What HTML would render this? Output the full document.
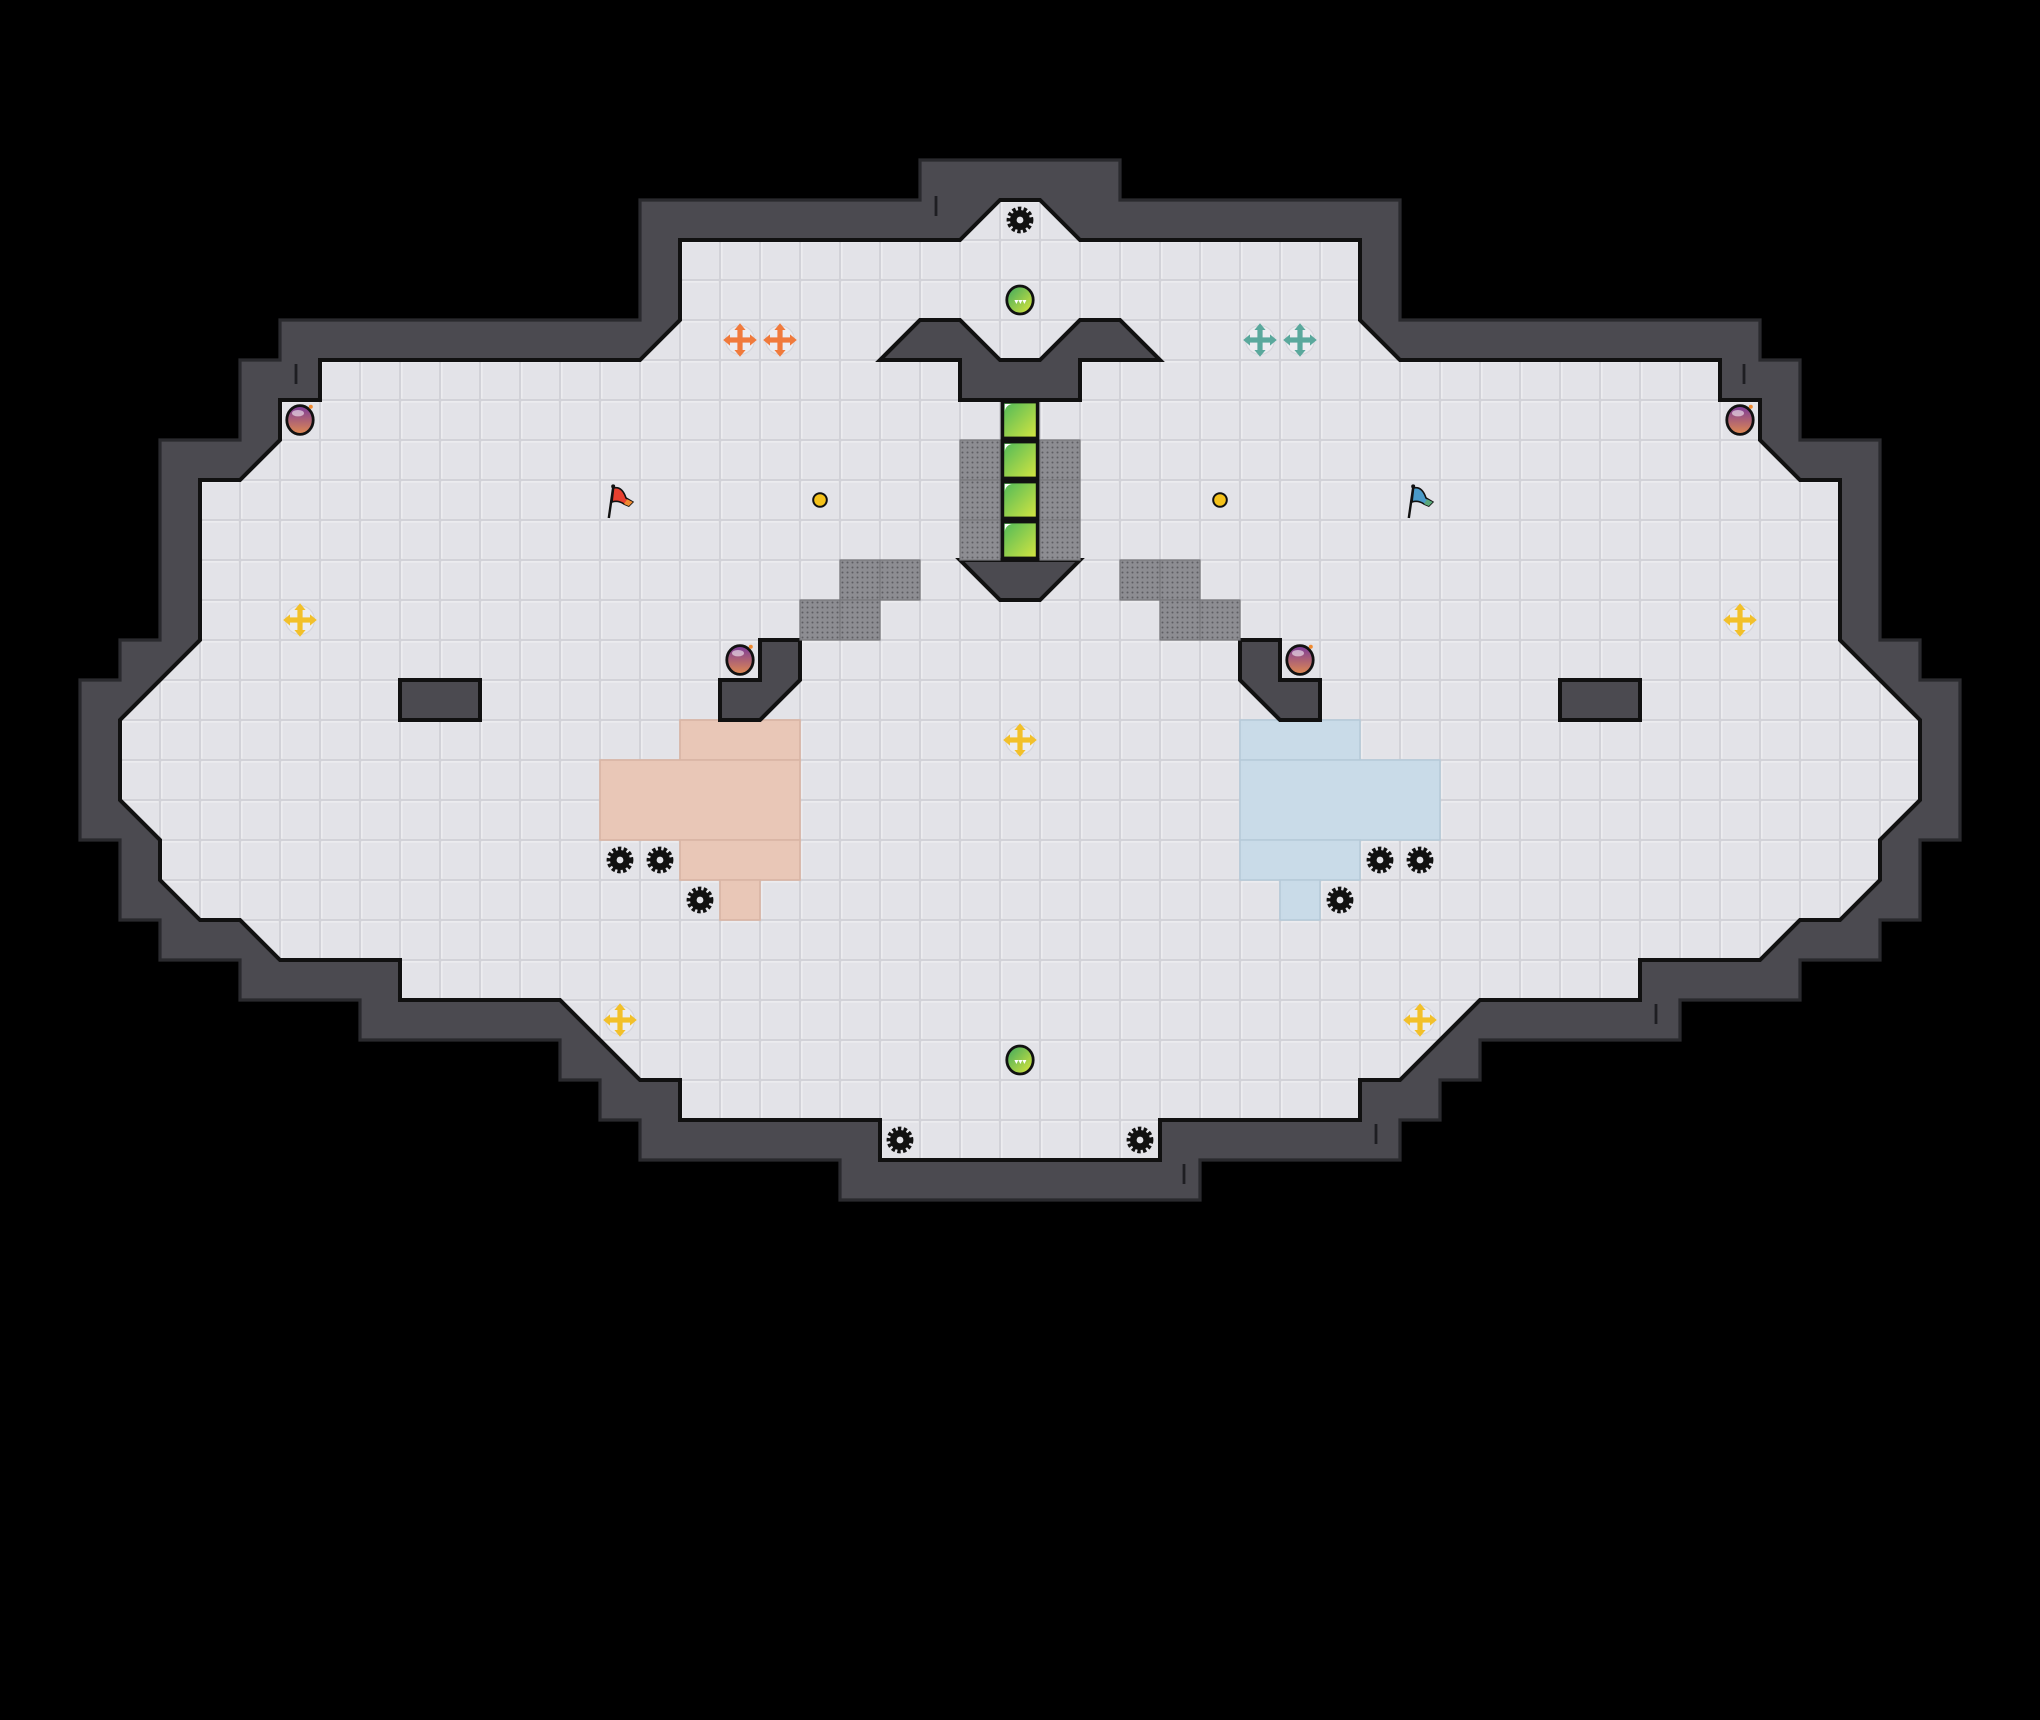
<!DOCTYPE html>
<html><head><meta charset="utf-8"><style>html,body{margin:0;padding:0;background:#000}svg{display:block}</style></head>
<body>
<svg width="2040" height="1720" viewBox="0 0 2040 1720" xmlns="http://www.w3.org/2000/svg">
<defs>
<pattern id="tile" patternUnits="userSpaceOnUse" width="1" height="1">
<rect width="1" height="1" fill="#d2d2d8"/>
<rect x="0.03" y="0.03" width="0.94" height="0.94" fill="#f3f3f5"/>
<rect x="0.06" y="0.06" width="0.91" height="0.91" fill="#e3e3e8"/>
</pattern>
<pattern id="dots" patternUnits="userSpaceOnUse" width="0.125" height="0.125">
<rect width="0.125" height="0.125" fill="#8d8d92"/>
<circle cx="0.0625" cy="0.0625" r="0.025" fill="#5e5e63"/>
</pattern>
<linearGradient id="gg" x1="0" y1="0" x2="1" y2="1"><stop offset="0" stop-color="#4cb85a"/><stop offset="1" stop-color="#d8e640"/></linearGradient>
<linearGradient id="go" x1="0" y1="0" x2="1" y2="1"><stop offset="0" stop-color="#3aa860"/><stop offset="1" stop-color="#e0e83a"/></linearGradient>
<linearGradient id="po" x1="0" y1="0" x2="0" y2="1"><stop offset="0" stop-color="#7a3a9a"/><stop offset="1" stop-color="#e08a50"/></linearGradient>
<clipPath id="floorclip"><polygon points="22,0 21,1 14,1 14,3 13,4 5,4 5,5 4,5 4,6 3,7 2,7 2,11 0,13 0,15 1,16 1,17 2,18 3,18 4,19 7,19 7,20 11,20 13,22 14,22 14,23 19,23 19,24 26,24 26,23 31,23 31,22 32,22 34,20 38,20 38,19 41,19 42,18 43,18 44,17 44,16 45,15 45,13 43,11 43,7 42,7 41,6 41,5 40,5 40,4 32,4 31,3 31,1 24,1 23,0"/></clipPath>
<g id="gear"><circle r="0.27" fill="none" stroke="#111" stroke-width="0.13" stroke-dasharray="0.08 0.055"/><circle r="0.25" fill="#111"/><circle r="0.085" fill="#e3e3e8"/></g>
<g id="cross"><circle r="0.36" fill="#ececf0" stroke="#d6d6dc" stroke-width="0.03"/><rect x="-0.3" y="-0.065" width="0.6" height="0.13"/><rect x="-0.065" y="-0.3" width="0.13" height="0.6"/><polygon points="-0.42,0 -0.25,-0.14 -0.25,0.14"/><polygon points="0.42,0 0.25,-0.14 0.25,0.14"/><polygon points="0,-0.42 -0.14,-0.25 0.14,-0.25"/><polygon points="0,0.42 -0.14,0.25 0.14,0.25"/></g>
<g id="porb"><ellipse rx="0.33" ry="0.36" fill="url(#po)" stroke="#111" stroke-width="0.07"/><ellipse cx="-0.05" cy="-0.17" rx="0.15" ry="0.08" fill="#fff" opacity="0.55"/><circle cx="0.27" cy="-0.33" r="0.05" fill="#f08a30"/></g>
<g id="gorb"><ellipse rx="0.33" ry="0.35" fill="url(#go)" stroke="#111" stroke-width="0.07"/><path d="M-0.14,0 L0.16,0 L0.11,0.1 L0.06,0 L0.01,0.1 L-0.04,0 L-0.09,0.1 Z" fill="#fff"/></g>
<g id="gblock"><rect x="0.06" y="0.04" width="0.88" height="0.92" fill="url(#gg)" stroke="#111" stroke-width="0.09"/><path d="M0.12,0.1 h0.2 a0.2,0.2 0 0 0 -0.2,0.2z" fill="#fff"/></g>
</defs>
<rect width="2040" height="1720" fill="#000"/>
<g transform="translate(120,200) scale(40)">
<polygon points="20,-1 20,0 13,0 13,3 4,3 4,4 3,4 3,6 1,6 1,11 0,11 0,12 -1,12 -1,16 0,16 0,18 1,18 1,19 3,19 3,20 6,20 6,21 11,21 11,22 12,22 12,23 13,23 13,24 18,24 18,25 27,25 27,24 32,24 32,23 33,23 33,22 34,22 34,21 39,21 39,20 42,20 42,19 44,19 44,18 45,18 45,16 46,16 46,12 45,12 45,11 44,11 44,6 42,6 42,4 41,4 41,3 32,3 32,0 25,0 25,-1" fill="#4b4a50" stroke="#2a2a2e" stroke-width="0.08" stroke-linejoin="miter"/>
<g clip-path="url(#floorclip)">
<rect x="-1" y="-1" width="48" height="27" fill="url(#tile)"/>
<g fill="#e9c7b7" stroke="#d9b5a4" stroke-width="0.04">
<rect x="14" y="13" width="3" height="1"/><rect x="12" y="14" width="5" height="2"/><rect x="14" y="16" width="3" height="1"/><rect x="15" y="17" width="1" height="1"/>
</g>
<g fill="#c9dbe8" stroke="#b6cad9" stroke-width="0.04">
<rect x="28" y="13" width="3" height="1"/><rect x="28" y="14" width="5" height="2"/><rect x="28" y="16" width="3" height="1"/><rect x="29" y="17" width="1" height="1"/>
</g>
</g>
<polygon points="22,0 21,1 14,1 14,3 13,4 5,4 5,5 4,5 4,6 3,7 2,7 2,11 0,13 0,15 1,16 1,17 2,18 3,18 4,19 7,19 7,20 11,20 13,22 14,22 14,23 19,23 19,24 26,24 26,23 31,23 31,22 32,22 34,20 38,20 38,19 41,19 42,18 43,18 44,17 44,16 45,15 45,13 43,11 43,7 42,7 41,6 41,5 40,5 40,4 32,4 31,3 31,1 24,1 23,0" fill="none" stroke="#111" stroke-width="0.1"/>
<g stroke="#1e1e22" stroke-width="0.07">
<line x1="20.4" y1="-0.1" x2="20.4" y2="0.4"/><line x1="4.4" y1="4.1" x2="4.4" y2="4.6"/><line x1="40.6" y1="4.1" x2="40.6" y2="4.6"/><line x1="31.4" y1="23.1" x2="31.4" y2="23.6"/><line x1="38.4" y1="20.1" x2="38.4" y2="20.6"/><line x1="26.6" y1="24.1" x2="26.6" y2="24.6"/>
</g>
<g fill="#4b4a50" stroke="#111" stroke-width="0.1" stroke-linejoin="miter">
<polygon points="19,4 20,3 21,3 22,4 23,4 24,3 25,3 26,4 24,4 24,5 21,5 21,4"/>
<polygon points="21,9 24,9 23,10 22,10"/>
<polygon points="16,11 17,11 17,12 16,13 15,13 15,12 16,12"/>
<polygon points="29,11 28,11 28,12 29,13 30,13 30,12 29,12"/>
<rect x="7" y="12" width="2" height="1"/>
<rect x="36" y="12" width="2" height="1"/>
</g>
<g fill="url(#dots)" stroke="#77777c" stroke-width="0.03">
<rect x="21" y="6" width="1" height="1"/><rect x="21" y="7" width="1" height="1"/><rect x="21" y="8" width="1" height="1"/>
<rect x="23" y="6" width="1" height="1"/><rect x="23" y="7" width="1" height="1"/><rect x="23" y="8" width="1" height="1"/>
<rect x="18" y="9" width="1" height="1"/><rect x="19" y="9" width="1" height="1"/><rect x="17" y="10" width="1" height="1"/><rect x="18" y="10" width="1" height="1"/>
<rect x="25" y="9" width="1" height="1"/><rect x="26" y="9" width="1" height="1"/><rect x="26" y="10" width="1" height="1"/><rect x="27" y="10" width="1" height="1"/>
</g>
<use href="#gblock" x="22" y="5"/><use href="#gblock" x="22" y="6"/><use href="#gblock" x="22" y="7"/><use href="#gblock" x="22" y="8"/>
<use href="#gear" x="22.5" y="0.5"/><use href="#gear" x="19.5" y="23.5"/><use href="#gear" x="25.5" y="23.5"/>
<use href="#gear" x="12.5" y="16.5"/><use href="#gear" x="13.5" y="16.5"/><use href="#gear" x="14.5" y="17.5"/>
<use href="#gear" x="31.5" y="16.5"/><use href="#gear" x="32.5" y="16.5"/><use href="#gear" x="30.5" y="17.5"/>
<use href="#gorb" x="22.5" y="2.5"/><use href="#gorb" x="22.5" y="21.5"/>
<use href="#porb" x="4.5" y="5.5"/><use href="#porb" x="40.5" y="5.5"/><use href="#porb" x="15.5" y="11.5"/><use href="#porb" x="29.5" y="11.5"/>
<g fill="#f07a3c"><use href="#cross" x="15.5" y="3.5"/><use href="#cross" x="16.5" y="3.5"/></g>
<g fill="#5aa89c"><use href="#cross" x="28.5" y="3.5"/><use href="#cross" x="29.5" y="3.5"/></g>
<g fill="#f2c02a"><use href="#cross" x="4.5" y="10.5"/><use href="#cross" x="40.5" y="10.5"/><use href="#cross" x="22.5" y="13.5"/><use href="#cross" x="12.5" y="20.5"/><use href="#cross" x="32.5" y="20.5"/></g>
<circle cx="17.5" cy="7.5" r="0.17" fill="#f5c21a" stroke="#111" stroke-width="0.05"/>
<circle cx="27.5" cy="7.5" r="0.17" fill="#f5c21a" stroke="#111" stroke-width="0.05"/>
<g transform="translate(12.5,7.5)"><line x1="-0.28" y1="0.45" x2="-0.17" y2="-0.32" stroke="#111" stroke-width="0.06"/><circle cx="-0.17" cy="-0.34" r="0.05" fill="#111"/><path d="M-0.16,-0.3 Q0.05,-0.35 0.15,-0.05 L0.32,0.05 L0.22,0.15 L0.1,0.1 Q-0.05,0 -0.2,0.05 Z" fill="#e84030" stroke="#111" stroke-width="0.04"/><path d="M0.1,0.1 L0.22,0.15 L0.32,0.05 L0.18,-0.02Z" fill="#f08a30"/></g>
<g transform="translate(32.5,7.5)"><line x1="-0.28" y1="0.45" x2="-0.17" y2="-0.32" stroke="#111" stroke-width="0.06"/><circle cx="-0.17" cy="-0.34" r="0.05" fill="#111"/><path d="M-0.16,-0.3 Q0.05,-0.35 0.15,-0.05 L0.32,0.05 L0.22,0.15 L0.1,0.1 Q-0.05,0 -0.2,0.05 Z" fill="#4a9ac8" stroke="#111" stroke-width="0.04"/><path d="M0.1,0.1 L0.22,0.15 L0.32,0.05 L0.18,-0.02Z" fill="#5aa87a"/></g>
</g>
</svg>
</body></html>
